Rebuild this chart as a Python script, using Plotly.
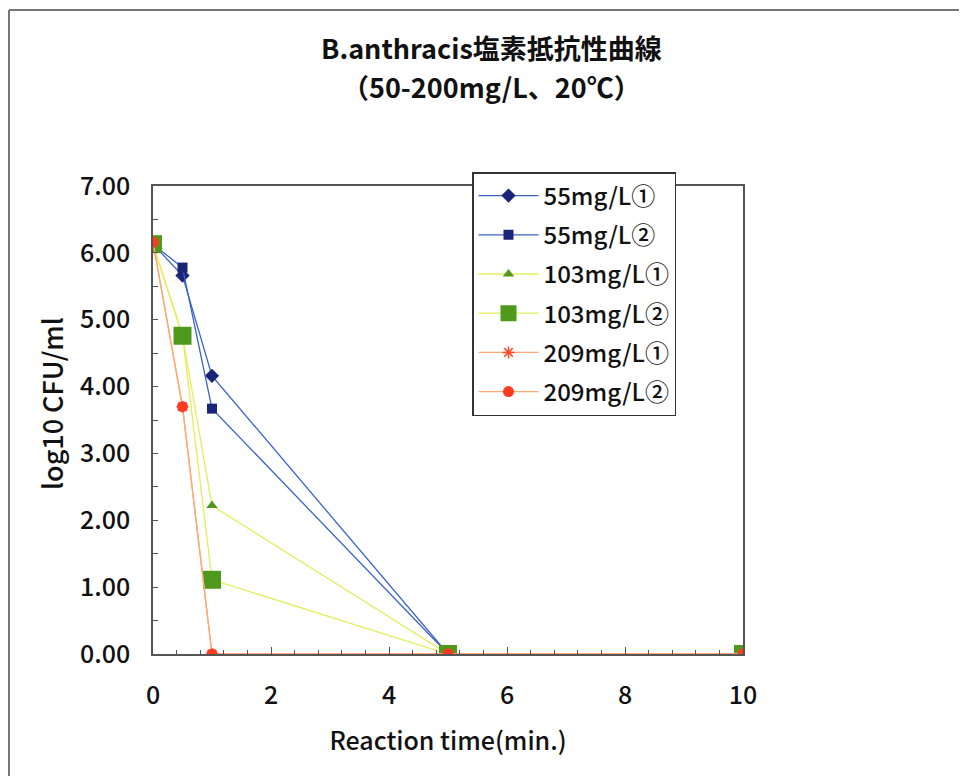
import plotly.graph_objects as go

# ---- data ----
times = [0, 0.5, 1, 5, 10]
s55_1 = [6.13, 5.66, 4.16, 0.0, 0.0]
s55_2 = [6.13, 5.78, 3.67, 0.0, 0.0]
s103_1 = [6.13, 4.76, 2.22, 0.0, 0.0]
s103_2 = [6.13, 4.76, 1.11, 0.0, 0.0]
s209_1 = [6.16, 3.70, 0.0, 0.0, 0.0]
s209_2 = [6.16, 3.70, 0.0, 0.0, 0.0]

names = ["55mg/L①", "55mg/L②", "103mg/L①", "103mg/L②", "209mg/L①", "209mg/L②"]
series = [s55_1, s55_2, s103_1, s103_2, s209_1, s209_2]
line_colors = ["#3a62c8", "#3a62c8", "#e3ee5a", "#e3ee5a", "#ffa872", "#ffa872"]
marker_colors = ["#1b2577", "#1b2577", "#4f9a1c", "#4f9a1c", "#ff4a2a", "#ff3a22"]
symbols = ["diamond", "square", "triangle-up", "square", "asterisk", "circle"]
sizes = [11, 10, 10, 18, 10, 11]

FONT = "Noto Sans CJK JP, Arial, sans-serif"

# plot-area pixel geometry (reference pixel coordinates)
W, H = 967, 776
L, R, T, B = 153, 224, 186, 122
PW, PH = W - L - R, H - T - B
OFF = 8  # page body margin of the html page

def px(xp):
    return (xp - L) / PW

def py(yp):
    return (H - B - yp) / PH

fig = go.Figure()
for i, (nm, ys) in enumerate(zip(names, series)):
    mk = dict(symbol=symbols[i], size=sizes[i], color=marker_colors[i])
    if symbols[i] == "asterisk":
        mk["line"] = dict(color=marker_colors[i], width=1.5)
    else:
        mk["line"] = dict(width=0)
    fig.add_trace(go.Scatter(
        x=times, y=ys, name=nm, mode="lines+markers",
        line=dict(color=line_colors[i], width=1.3),
        marker=mk, legendgroup=f"g{i}",
    ))

fig.update_layout(
    width=W, height=H,
    margin=dict(l=L - OFF, r=R + OFF, t=T - OFF, b=B + OFF, pad=0),
    paper_bgcolor="white", plot_bgcolor="white",
    font=dict(family=FONT, size=24, color="#111111", weight=500),
    showlegend=True,
    legend=dict(
        x=px(472), y=py(172), xanchor="left", yanchor="top",
        bgcolor="white", bordercolor="#333333", borderwidth=1.5,
        font=dict(family=FONT, size=24, color="#111111", weight=500),
        tracegroupgap=5, itemwidth=60,
        entrywidthmode="pixels", entrywidth=140,
    ),
    xaxis=dict(
        range=[0, 10], dtick=2, tick0=0,
        showgrid=False, zeroline=False,
        showline=True, linecolor="#555555", linewidth=1.5, mirror=True,
        ticks="inside", ticklen=7, tickcolor="#555555",
        minor=dict(dtick=0.4, tick0=0, ticks="inside", ticklen=4, tickcolor="#555555"),
        tickfont=dict(family=FONT, size=25, color="#111111", weight=500),
        ticklabelstandoff=18,
        title=dict(text="Reaction time(min.)",
                   font=dict(family=FONT, size=25, weight=500), standoff=23),
    ),
    yaxis=dict(
        range=[0, 7], dtick=1, tick0=0, tickformat=".2f",
        showgrid=False, zeroline=False,
        showline=True, linecolor="#555555", linewidth=1.5, mirror=True,
        ticks="inside", ticklen=5, tickcolor="#555555",
        minor=dict(dtick=0.5, tick0=0, ticks="inside", ticklen=5, tickcolor="#555555"),
        tickfont=dict(family=FONT, size=25, color="#111111", weight=500),
        ticklabelstandoff=16,
    ),
)

# y-axis title as rotated annotation
fig.add_annotation(text="log10 CFU/ml", xref="paper", yref="paper",
                   x=px(51), y=py(404), showarrow=False, textangle=-90,
                   font=dict(family=FONT, size=27, color="#111111", weight=500),
                   xanchor="center", yanchor="middle")

# title as annotations
fig.add_annotation(text="B.anthracis塩素抵抗性曲線", xref="paper", yref="paper",
                   x=px(491), y=py(48), showarrow=False,
                   font=dict(family=FONT, size=27, color="#111111", weight=700),
                   xanchor="center", yanchor="middle")
fig.add_annotation(text="（50-200mg/L、20℃）", xref="paper", yref="paper",
                   x=px(491), y=py(86), showarrow=False,
                   font=dict(family=FONT, size=27, color="#111111", weight=700),
                   xanchor="center", yanchor="middle")

# outer frame of the chart area
fig.add_shape(type="line", xref="paper", yref="paper",
              x0=px(9), x1=px(980), y0=py(10), y1=py(10),
              line=dict(color="#777777", width=2))
fig.add_shape(type="line", xref="paper", yref="paper",
              x0=px(9), x1=px(9), y0=py(10), y1=py(790),
              line=dict(color="#777777", width=2))

fig.write_html("out.html")
